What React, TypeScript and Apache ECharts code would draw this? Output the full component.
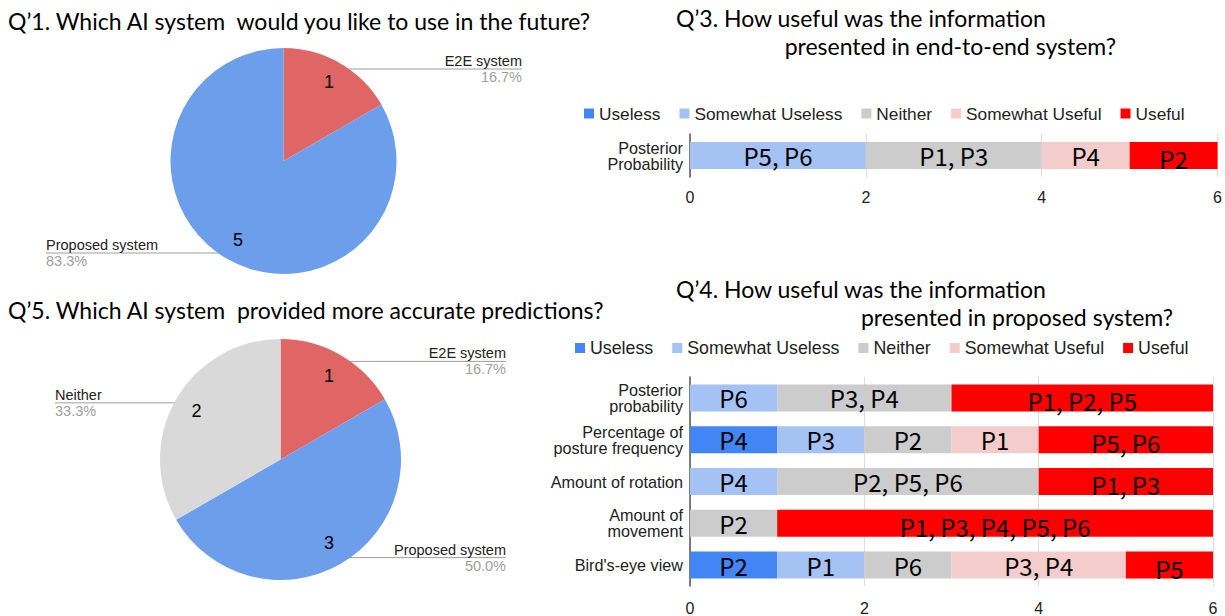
import React, { useEffect, useRef } from 'react';
import * as echarts from 'echarts';

// ---------- data ----------
const pie1Names = ['E2E system', 'Proposed system'];
const pie1Values = [1, 5];
const pie2Names = ['E2E system', 'Proposed system', 'Neither'];
const pie2Values = [1, 3, 2];

const levels = ['Useless', 'Somewhat Useless', 'Neither', 'Somewhat Useful', 'Useful'];
const levelColors = ['#4285f4', '#a4c2f4', '#cccccc', '#f4cccc', '#ff0000'];

const q3Categories = ['Posterior\nProbability'];
const q3Useless = [0];
const q3UselessWho = [''];
const q3SomewhatUseless = [2];
const q3SomewhatUselessWho = ['P5, P6'];
const q3Neither = [2];
const q3NeitherWho = ['P1, P3'];
const q3SomewhatUseful = [1];
const q3SomewhatUsefulWho = ['P4'];
const q3Useful = [1];
const q3UsefulWho = ['P2'];

const q4Categories = [
  'Posterior\nprobability',
  'Percentage of\nposture frequency',
  'Amount of rotation',
  'Amount of\nmovement',
  "Bird's-eye view",
];
const q4Useless = [0, 1, 0, 0, 1];
const q4UselessWho = ['', 'P4', '', '', 'P2'];
const q4SomewhatUseless = [1, 1, 1, 0, 1];
const q4SomewhatUselessWho = ['P6', 'P3', 'P4', '', 'P1'];
const q4Neither = [2, 1, 3, 1, 1];
const q4NeitherWho = ['P3, P4', 'P2', 'P2, P5, P6', 'P2', 'P6'];
const q4SomewhatUseful = [0, 1, 0, 0, 2];
const q4SomewhatUsefulWho = ['', 'P1', '', '', 'P3, P4'];
const q4Useful = [3, 2, 2, 5, 1];
const q4UsefulWho = ['P1, P2, P5', 'P5, P6', 'P1, P3', 'P1, P3, P4, P5, P6', 'P5'];

const axisMin = 0;
const axisMax = 6;
const axisStep = 2;

// ---------- styles ----------
const TITLE_FONT = 'Lato, "Noto Sans", sans-serif';
const BAR_LABEL_FONT = '"Noto Sans CJK JP", "Noto Sans", sans-serif';
const LABEL_FONT = '"Liberation Sans", Arial, sans-serif';

function pieOutsideLayout(values: number[], cx: number, cy: number, r: number, leftEdge: number, rightEdge: number) {
  const total = values.reduce((a, b) => a + b, 0);
  return (params: any) => {
    const i = params.dataIndex;
    let cum = 0;
    for (let k = 0; k < i; k++) cum += values[k];
    const mid = ((cum + values[i] / 2) / total) * Math.PI * 2;
    const ax = cx + Math.sin(mid) * r * 0.94;
    const ay = cy - Math.cos(mid) * r * 0.94;
    const isLeft = ax < cx;
    const ex = isLeft ? leftEdge : rightEdge;
    return {
      x: ex,
      y: ay,
      align: isLeft ? 'left' : 'right',
      verticalAlign: 'middle',
      labelLinePoints: [
        [ax, ay],
        [ax, ay],
        [ex, ay],
      ],
    };
  };
}

function pieSeries(names: string[], values: number[], colors: string[], cx: number, cy: number, r: number, leftEdge: number, rightEdge: number) {
  const data = names.map((n, i) => ({ name: n, value: values[i], itemStyle: { color: colors[i] } }));
  return [
    {
      type: 'pie',
      center: [cx, cy],
      radius: [0, r],
      startAngle: 90,
      clockwise: true,
      silent: true,
      data,
      label: {
        show: true,
        position: 'outside',
        formatter: (p: any) => `{n|${p.name}}\n{p|${(p.percent as number).toFixed(1)}%}`,
        rich: {
          n: { fontSize: 14.5, color: '#222', fontFamily: LABEL_FONT, lineHeight: 16 },
          p: { fontSize: 14.5, color: '#9e9e9e', fontFamily: LABEL_FONT, lineHeight: 16 },
        },
      },
      labelLine: { show: true, lineStyle: { color: '#9e9e9e', width: 1 } },
      labelLayout: pieOutsideLayout(values, cx, cy, r, leftEdge, rightEdge),
      emphasis: { disabled: true },
    },
    {
      type: 'pie',
      center: [cx, cy],
      radius: [r * 0.56, r],
      startAngle: 90,
      clockwise: true,
      silent: true,
      data: names.map((n, i) => ({ name: n, value: values[i] })),
      itemStyle: { color: 'transparent' },
      label: {
        show: true,
        position: 'inside',
        formatter: '{c}',
        fontSize: 18,
        color: '#000',
        fontFamily: LABEL_FONT,
      },
      labelLine: { show: false },
      emphasis: { disabled: true },
    },
  ];
}

function barSeries(stack: string, axisIndex: number, values: number[][], who: string[][]) {
  return levels.map((name, i) => ({
    type: 'bar',
    name,
    stack,
    xAxisIndex: axisIndex,
    yAxisIndex: axisIndex,
    barWidth: 27,
    silent: true,
    itemStyle: { color: levelColors[i] },
    data: values[i],
    label: {
      show: true,
      position: 'inside',
      formatter: (p: any) => who[i][p.dataIndex] || '',
      fontFamily: BAR_LABEL_FONT,
      fontSize: 24,
      color: '#000',
      offset: i === 4 ? [0, 3] : [0, 0],
    },
    emphasis: { disabled: true },
  }));
}

function titleItem(text: string, pos: any) {
  return {
    text,
    ...pos,
    padding: 0,
    textStyle: { fontFamily: TITLE_FONT, fontSize: 23, lineHeight: 26, fontWeight: 'normal', color: '#000' },
  };
}

function valueAxis(gridIndex: number, margin: number) {
  return {
    type: 'value',
    gridIndex,
    min: axisMin,
    max: axisMax,
    interval: axisStep,
    axisLine: { show: false },
    axisTick: { show: false },
    splitLine: { show: true, lineStyle: { color: '#dddddd', width: 1 } },
    axisLabel: { fontSize: 16, color: '#222', fontFamily: LABEL_FONT, margin },
  };
}

function categoryAxis(gridIndex: number, data: string[]) {
  return {
    type: 'category',
    gridIndex,
    data,
    inverse: true,
    axisTick: { show: false },
    axisLine: { show: true, lineStyle: { color: '#555', width: 1.5 } },
    axisLabel: { fontSize: 16.2, lineHeight: 16, color: '#222', fontFamily: LABEL_FONT, margin: 7 },
  };
}

function legendItem(left: number, top: number, fontSize: number) {
  return {
    data: levels,
    left,
    top,
    padding: 0,
    icon: 'rect',
    itemWidth: 10,
    itemHeight: 10,
    itemGap: 19,
    selectedMode: false,
    textStyle: { fontSize, color: '#222', fontFamily: LABEL_FONT },
  };
}

export default function App() {
  const ref = useRef<HTMLDivElement>(null);
  useEffect(() => {
    if (!ref.current) return;
    const chart = echarts.init(ref.current, null, { renderer: 'svg' });
    const option: any = {
      animation: false,
      backgroundColor: '#ffffff',
      title: [
        titleItem('Q’1. Which AI system\u00a0 would you like to use in the future?', { left: 8, top: 8 }),
        titleItem('Q’5. Which AI system\u00a0 provided more accurate predictions?', { left: 8, top: 297 }),
        titleItem('Q’3. How useful was the information', { left: 676, top: 5 }),
        titleItem('presented in end-to-end system?', { right: 109, top: 33 }),
        titleItem('Q’4. How useful was the information', { left: 676, top: 276 }),
        titleItem('presented in proposed system?', { right: 52, top: 304 }),
      ],
      legend: [legendItem(584, 105, 17.3), legendItem(575, 339, 17.8)],
      grid: [
        { left: 690, width: 528, top: 134, height: 43 },
        { left: 690, width: 523, top: 377, height: 209 },
      ],
      xAxis: [valueAxis(0, 12), valueAxis(1, 14)],
      yAxis: [categoryAxis(0, q3Categories), categoryAxis(1, q4Categories)],
      series: [
        ...pieSeries(pie1Names, pie1Values, ['#e06666', '#6d9eeb'], 283.5, 161, 113, 46, 522),
        ...pieSeries(pie2Names, pie2Values, ['#e06666', '#6d9eeb', '#d9d9d9'], 280.5, 459.5, 120.5, 55, 506),
        ...barSeries(
          'q3',
          0,
          [q3Useless, q3SomewhatUseless, q3Neither, q3SomewhatUseful, q3Useful],
          [q3UselessWho, q3SomewhatUselessWho, q3NeitherWho, q3SomewhatUsefulWho, q3UsefulWho]
        ),
        ...barSeries(
          'q4',
          1,
          [q4Useless, q4SomewhatUseless, q4Neither, q4SomewhatUseful, q4Useful],
          [q4UselessWho, q4SomewhatUselessWho, q4NeitherWho, q4SomewhatUsefulWho, q4UsefulWho]
        ),
      ],
    };
    chart.setOption(option);
    return () => chart.dispose();
  }, []);
  return (
    <div
      ref={ref}
      style={{ position: 'absolute', left: 0, top: 0, width: 1225, height: 616, background: '#fff' }}
    />
  );
}
